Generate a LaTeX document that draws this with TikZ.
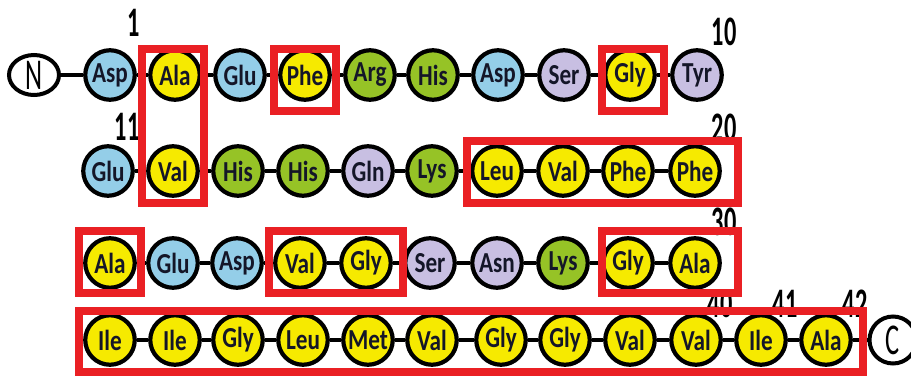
\documentclass[tikz,border=0pt]{standalone}
\usepackage{fontspec}
\setmainfont{Carlito}
\newfontfamily\resfont{Carlito}[FakeStretch=0.8]
\newfontfamily\numfont{Carlito}[FakeStretch=0.58]
\newfontfamily\endfont{Carlito}[FakeStretch=0.6]
\usetikzlibrary{shapes.geometric}
\definecolor{aablue}{RGB}{148,206,232}
\definecolor{aayellow}{RGB}{246,234,0}
\definecolor{aagreen}{RGB}{150,195,38}
\definecolor{aapurple}{RGB}{200,191,226}
\definecolor{boxred}{RGB}{234,32,36}
\definecolor{inkblue}{RGB}{20,22,40}
\newcommand{\redbox}[2]% corner, corner
{\draw[boxline] (#1) rectangle (#2);
}
\tikzset{
	res/.style={circle, draw, line width=4.2pt, minimum size=49.5pt, inner sep=0pt,
		fill=#1, text=inkblue, font=\resfont\bfseries\fontsize{29pt}{29pt}\selectfont},
	term/.style={draw, line width=4pt, inner sep=0pt,
		font=\endfont\fontsize{44pt}{44pt}\selectfont},
	link/.style={line width=4pt},
	resnum/.style={font=\numfont\bfseries\fontsize{42pt}{42pt}\selectfont},
	boxline/.style={draw=boxred, line width=8pt},
}

\begin{document}
\begin{tikzpicture}[x=1pt,y=-1pt]
	\useasboundingbox (0,0) rectangle (911,376);
	% row 1
	\node[term, ellipse, minimum width=50pt, minimum height=40pt] (n) at (34,75){N};
	\node[res=aablue] (r1) at (110,75){Asp};%1
	\node[res=aayellow] (r2) at (175,75){Ala};%2
	\node[res=aablue] (r3) at (240,75){Glu};%3
	\node[res=aayellow] (r4) at (305,75){Phe};%4
	\node[res=aagreen] (r5) at (370,75){Arg};%5
	\node[res=aagreen] (r6) at (433,75){His};%6
	\node[res=aablue] (r7) at (498,75){Asp};%7
	\node[res=aapurple] (r8) at (564,75){Ser};%8
	\node[res=aayellow] (r9) at (630,75){Gly};%9
	\node[res=aapurple] (r10) at (697,75){Tyr};%10
	% row 2
	\node[res=aablue] (r11) at (108,171){Glu};%11
	\node[res=aayellow] (r12) at (173,171){Val};%12
	\node[res=aagreen] (r13) at (238,171){His};%13
	\node[res=aagreen] (r14) at (303,171){His};%14
	\node[res=aapurple] (r15) at (368,171){Gln};%15
	\node[res=aagreen] (r16) at (432,171){Lys};%16
	\node[res=aayellow] (r17) at (497,171){Leu};%17
	\node[res=aayellow] (r18) at (563,171){Val};%18
	\node[res=aayellow] (r19) at (628,171){Phe};%19
	\node[res=aayellow] (r20) at (695,171){Phe};%20
	% row 3
	\node[res=aayellow] (r21) at (110,263){Ala};%21
	\node[res=aablue] (r22) at (173,263){Glu};%22
	\node[res=aablue] (r23) at (237,263){Asp};%23
	\node[res=aayellow] (r24) at (300,263){Val};%24
	\node[res=aayellow] (r25) at (366,263){Gly};%25
	\node[res=aapurple] (r26) at (430,263){Ser};%26
	\node[res=aapurple] (r27) at (497,263){Asn};%27
	\node[res=aagreen] (r28) at (563,263){Lys};%28
	\node[res=aayellow] (r29) at (628,263){Gly};%29
	\node[res=aayellow] (r30) at (695,263){Ala};%30
	% row 4
	\node[res=aayellow] (r31) at (110,340){Ile};%31
	\node[res=aayellow] (r32) at (175,340){Ile};%32
	\node[res=aayellow] (r33) at (238,340){Gly};%33
	\node[res=aayellow] (r34) at (303,340){Leu};%34
	\node[res=aayellow] (r35) at (368,340){Met};%35
	\node[res=aayellow] (r36) at (432,340){Val};%36
	\node[res=aayellow] (r37) at (501,340){Gly};%37
	\node[res=aayellow] (r38) at (565,340){Gly};%38
	\node[res=aayellow] (r39) at (630,340){Val};%39
	\node[res=aayellow] (r40) at (696,340){Val};%40
	\node[res=aayellow] (r41) at (761,340){Ile};%41
	\node[res=aayellow] (r42) at (826,340){Ala};%42
	\node[term, circle, minimum size=47pt] (c) at (893,340){C};
	% peptide bonds
	\draw[link] (n) -- (r1) -- (r2) -- (r3) -- (r4) -- (r5) -- (r6) -- (r7) -- (r8) -- (r9) -- (r10);
	\draw[link] (r11) -- (r12) -- (r13) -- (r14) -- (r15) -- (r16) -- (r17) -- (r18) -- (r19) -- (r20);
	\draw[link] (r21) -- (r22) -- (r23) -- (r24) -- (r25) -- (r26) -- (r27) -- (r28) -- (r29) -- (r30);
	\draw[link] (r31) -- (r32) -- (r33) -- (r34) -- (r35) -- (r36) -- (r37) -- (r38) -- (r39) -- (r40) -- (r41) -- (r42) -- (c);
	% residue numbers
	\node[resnum] (num1) at (134,23){1};
	\node[resnum] (num10) at (724,32){10};
	\node[resnum] (num11) at (127,127){11};
	\node[resnum] (num20) at (724,128){20};
	\node[resnum] (num30) at (724,222){30};
	\node[resnum] (num40) at (720,304){40};
	\node[resnum] (num41) at (785,304){41};
	\node[resnum] (num42) at (855,304){42};
	% hydrophobic stretches
	\redbox{142,49}{204,203}
	\redbox{274,49}{336,111}
	\redbox{602,49}{664,111}
	\redbox{467,141}{738,203}
	\redbox{79,231}{141,293}
	\redbox{269,231}{403,293}
	\redbox{602,231}{738,293}
	\redbox{79,311}{863,372}
\end{tikzpicture}
\end{document}
